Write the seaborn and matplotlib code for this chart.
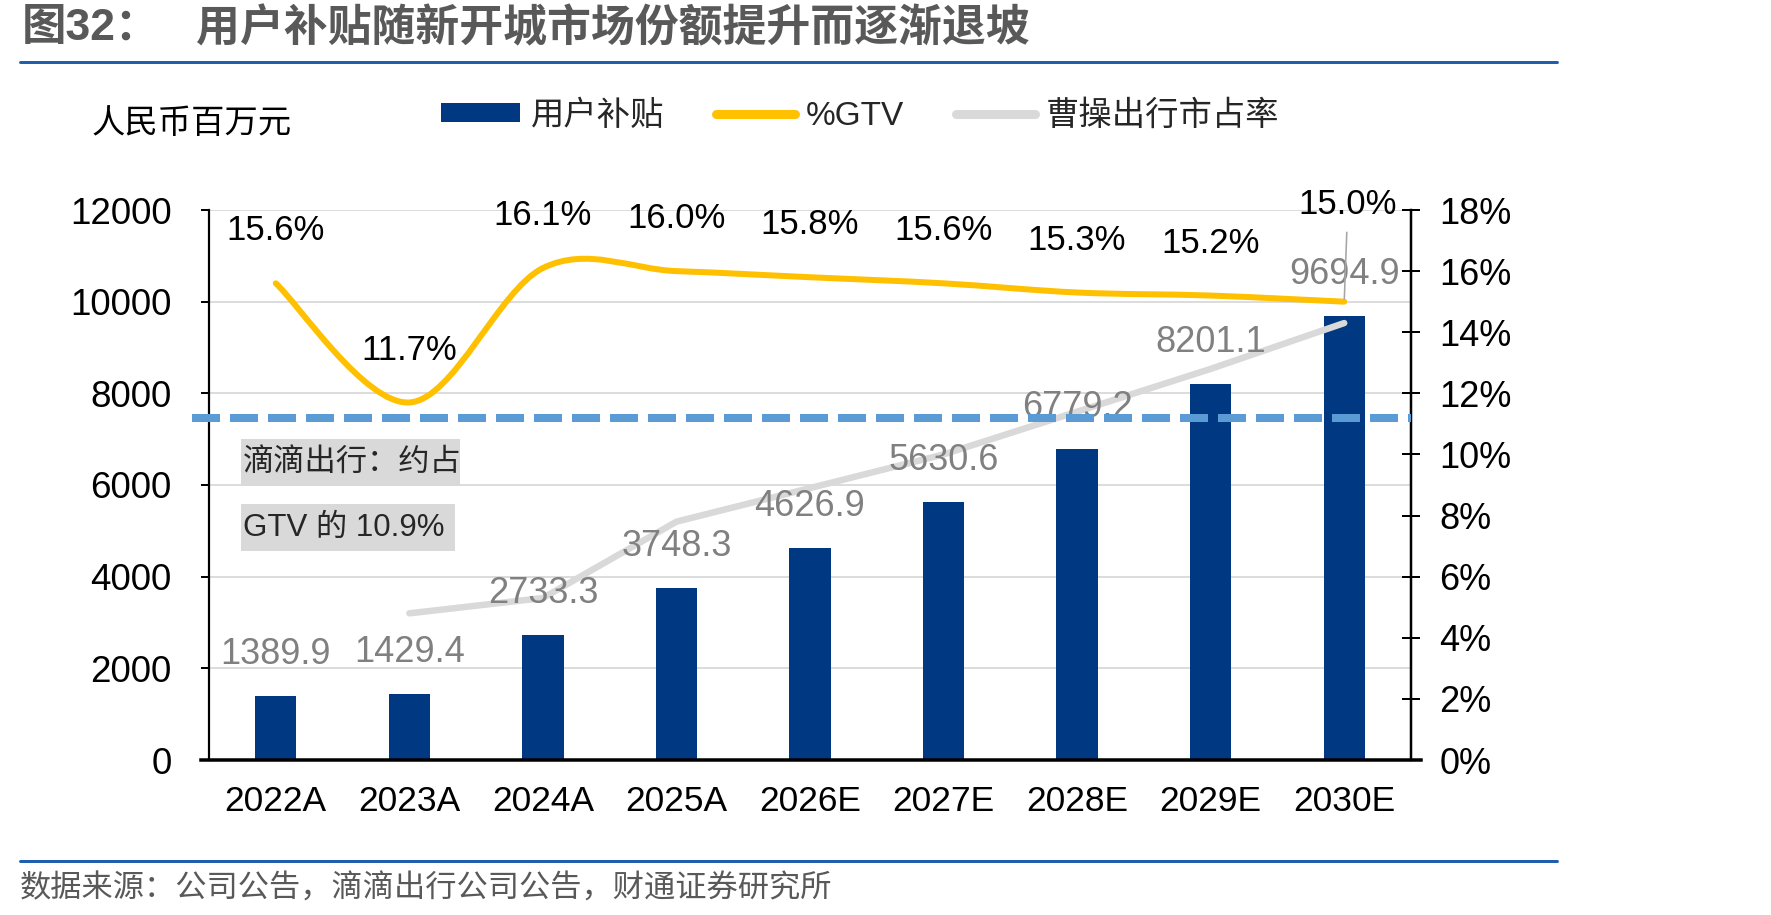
import numpy as np
import matplotlib
matplotlib.use("Agg")
import matplotlib.pyplot as plt
import matplotlib.transforms as mtransforms
from matplotlib.path import Path
from matplotlib.patches import PathPatch, Patch, Rectangle
from matplotlib.lines import Line2D
import seaborn as sns

# ---------------- data ----------------
years = ["2022A", "2023A", "2024A", "2025A", "2026E", "2027E", "2028E", "2029E", "2030E"]
subsidy = [1389.9, 1429.4, 2733.3, 3748.3, 4626.9, 5630.6, 6779.2, 8201.1, 9694.9]   # 人民币百万元
gtv_pct = [15.6, 11.7, 16.1, 16.0, 15.8, 15.6, 15.3, 15.2, 15.0]                    # %GTV
caocao_share = [np.nan, 4.8, 5.3, 7.8, 8.9, 10.0, 11.4, 12.8, 14.3]                 # 曹操出行市占率 (%)
didi_level = 11.2                                                                     # 滴滴出行约占GTV线 (right axis %)
left_ticks = [0, 2000, 4000, 6000, 8000, 10000, 12000]
left_ticklabels = ["0", "2000", "4000", "6000", "8000", "10000", "12000"]
right_ticks = [0, 2, 4, 6, 8, 10, 12, 14, 16, 18]
right_ticklabels = ["0%", "2%", "4%", "6%", "8%", "10%", "12%", "14%", "16%", "18%"]
legend_labels = ["用户补贴", "%GTV", "曹操出行市占率"]
title_prefix = "图32："
title_main = "用户补贴随新开城市场份额提升而逐渐退坡"
unit_label = "人民币百万元"
note_lines = ["滴滴出行：约占", "GTV 的 10.9%"]
source_text = "数据来源：公司公告，滴滴出行公司公告，财通证券研究所"

# ---------------- style ----------------
W, H, DPI = 1771, 915, 100
PT = 72.0 / DPI  # px -> pt
BLUE = "#003882"
YELLOW = "#FFC000"
GRAY_LINE = "#D9D9D9"
DASH_BLUE = "#5B9BD5"
VAL_GRAY = "#808080"
TITLE_GRAY = "#595959"
RULE_BLUE = "#1F5FAD"

sns.set_theme(style="white")
plt.rcParams["font.family"] = ["Liberation Sans", "Noto Sans CJK SC", "DejaVu Sans"]
plt.rcParams["axes.unicode_minus"] = False

fig = plt.figure(figsize=(W / DPI, H / DPI), dpi=DPI)
fig.patch.set_facecolor("white")

x0, x1, ytop, ybot = 209, 1411, 210, 760
ax = fig.add_axes([x0 / W, 1 - ybot / H, (x1 - x0) / W, (ybot - ytop) / H])
ax.set_facecolor("none")

# bars
sns.barplot(x=years, y=subsidy, ax=ax, color=BLUE, saturation=1, width=0.31,
            linewidth=0, zorder=2)
ax.set_xlim(-0.5, len(years) - 0.5)
ax.set_ylim(left_ticks[0], left_ticks[-1])
ax.set_yticks(left_ticks)
ax.set_yticklabels(left_ticklabels)
ax.set_xlabel("")
ax.set_ylabel("")
ax.grid(False)
ax.yaxis.grid(True, color="#DCDCDC", linewidth=2 * PT, zorder=0)
ax.set_axisbelow(True)

ax.tick_params(axis="x", length=0, pad=18, labelsize=25.5, labelcolor="black")
ax.tick_params(axis="y", direction="out", length=8 * PT, width=2 * PT, pad=21,
               labelsize=26.5, labelcolor="black", color="black", left=True)

for s in ["top", "right"]:
    ax.spines[s].set_visible(False)
ax.spines["left"].set_color("black")
ax.spines["left"].set_linewidth(2.2 * PT)
ax.spines["bottom"].set_color("black")
ax.spines["bottom"].set_linewidth(3.5 * PT)
ax.spines["bottom"].set_bounds(-0.56, len(years) - 0.5 + 0.075)

# right axis
ax2 = ax.twinx()
ax2.set_ylim(right_ticks[0], right_ticks[-1])
ax2.set_yticks(right_ticks)
ax2.set_yticklabels(right_ticklabels)
ax2.grid(False)
for s in ["top", "left", "bottom"]:
    ax2.spines[s].set_visible(False)
ax2.spines["right"].set_color("black")
ax2.spines["right"].set_linewidth(2.5 * PT)
ax2.tick_params(axis="y", direction="inout", length=18 * PT, width=2 * PT, pad=14,
                labelsize=26, labelcolor="black", color="black", right=True)

xs = np.arange(len(years))

# gray market-share line
sns.lineplot(x=xs, y=caocao_share, ax=ax2, color=GRAY_LINE, linewidth=6.5 * PT,
             solid_capstyle="round", zorder=3, legend=False)


# smoothed %GTV line (Excel-style Bezier smoothing through the data points)
def smooth_path(px, py):
    pts = list(zip(px, py))
    n = len(pts)
    verts = [pts[0]]
    codes = [Path.MOVETO]
    for i in range(n - 1):
        p0 = pts[i - 1] if i > 0 else pts[i]
        p1 = pts[i]
        p2 = pts[i + 1]
        p3 = pts[i + 2] if i + 2 < n else pts[i + 1]
        c1 = (p1[0] + (p2[0] - p0[0]) / 6, p1[1] + (p2[1] - p0[1]) / 6)
        c2 = (p2[0] - (p3[0] - p1[0]) / 6, p2[1] - (p3[1] - p1[1]) / 6)
        verts += [c1, c2, p2]
        codes += [Path.CURVE4] * 3
    return Path(verts, codes)


gtv_patch = PathPatch(smooth_path(xs, gtv_pct), facecolor="none", edgecolor=YELLOW,
                      linewidth=6 * PT, capstyle="round", joinstyle="round",
                      transform=ax2.transData, zorder=4)
ax2.add_patch(gtv_patch)

# bar value labels (gray)
for i, v in enumerate(subsidy):
    ax2.annotate(f"{v:.1f}", xy=(i, v), xycoords=ax.transData,
                 xytext=(0, 32 * PT), textcoords="offset points",
                 ha="center", va="baseline", fontsize=26, color=VAL_GRAY, zorder=5)

# %GTV labels (black)
for i, p in enumerate(gtv_pct):
    if i == len(gtv_pct) - 1:
        ax2.annotate(f"{p:.1f}%", xy=(i, p), xycoords="data",
                     xytext=(3 * PT, 88 * PT), textcoords="offset points",
                     ha="center", va="baseline", fontsize=25, color="black", zorder=6,
                     arrowprops=dict(arrowstyle="-", color="#A6A6A6", lw=1.6 * PT,
                                     relpos=(0.5, 0.0), shrinkA=6, shrinkB=2))
    else:
        ax2.annotate(f"{p:.1f}%", xy=(i, p), xycoords="data",
                     xytext=(0, 43 * PT), textcoords="offset points",
                     ha="center", va="baseline", fontsize=25, color="black", zorder=6)

# dashed reference line (extends slightly past the left axis)
blend = mtransforms.blended_transform_factory(ax2.transAxes, ax2.transData)
ax2.plot([-17 / (x1 - x0), 1.0], [didi_level, didi_level], transform=blend,
         color=DASH_BLUE, linewidth=8 * PT, linestyle=(0, (3.5, 1.25)),
         dash_capstyle="butt", clip_on=False, zorder=7)

# note boxes (gray background panels + text)
note_boxes = [(241, 439, 460, 486), (241, 504, 455, 551)]  # px: left, top, right, bottom
for line, (bl, bt, br, bb) in zip(note_lines, note_boxes):
    fig.patches.append(Rectangle((bl / W, 1 - bb / H), (br - bl) / W, (bb - bt) / H,
                                 transform=fig.transFigure, facecolor="#D9D9D9",
                                 edgecolor="none", zorder=1))
    fig.text(243 / W, 1 - (bt + bb) / 2 / H, line, ha="left", va="center",
             fontsize=22.5, color="#262626", zorder=2)

# legend
handles = [Patch(facecolor=BLUE, edgecolor="none"),
           Line2D([], [], color=YELLOW, lw=6.5, solid_capstyle="round"),
           Line2D([], [], color=GRAY_LINE, lw=6.5, solid_capstyle="round")]
fig.legend(handles, legend_labels, loc="center left",
           bbox_to_anchor=(441 / W, 1 - 116 / H), ncol=3, frameon=False,
           fontsize=24, handlelength=2.37, handleheight=0.5, handletextpad=0.33,
           columnspacing=1.55, borderpad=0, borderaxespad=0)

# titles, unit, source and rules
fig.text(22 / W, 1 - 29 / H, title_prefix, ha="left", va="center", fontsize=32,
         color=TITLE_GRAY, fontweight="bold")
fig.text(196 / W, 1 - 29 / H, title_main, ha="left", va="center", fontsize=31.6,
         color=TITLE_GRAY, fontweight="bold")
fig.add_artist(Line2D([20 / W, 1557 / W], [1 - 62 / H, 1 - 62 / H],
                      transform=fig.transFigure, color=RULE_BLUE, lw=3 * PT))
fig.text(92 / W, 1 - 125 / H, unit_label, ha="left", va="center", fontsize=24,
         color="black")
fig.add_artist(Line2D([20 / W, 1557 / W], [1 - 861 / H, 1 - 861 / H],
                      transform=fig.transFigure, color=RULE_BLUE, lw=3 * PT))
fig.text(20 / W, 1 - 890 / H, source_text, ha="left", va="center", fontsize=22.5,
         color=TITLE_GRAY)

fig.savefig("out.png", dpi=DPI, facecolor="white")
